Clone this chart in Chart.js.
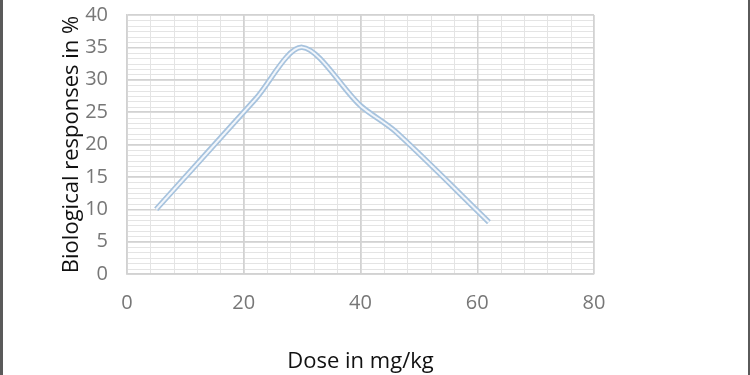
<!DOCTYPE html>
<html>
<head>
<meta charset="utf-8">
<script src="https://cdn.jsdelivr.net/npm/chart.js@4/dist/chart.umd.min.js"></script>
<style>
  html, body { margin: 0; padding: 0; background: #ffffff; }
  #wrap { position: relative; width: 750px; height: 375px; }
  #frame { position: absolute; left: 0; top: 0; width: 750px; height: 375px; box-sizing: border-box;
           border-left: 3px solid #5a5a5a; border-right: 2px solid #5a5a5a; pointer-events: none; }
</style>
</head>
<body>
<div id="wrap">
  <canvas id="c" width="750" height="375"></canvas>
  <div id="frame"></div>
</div>
<script>
// Data
const doses = [5, 22, 30, 40, 46, 62];          // Dose in mg/kg (x)
const responses = [10, 27, 35, 26, 22, 8];      // Biological responses in % (y)

// Axis settings
const xMin = 0, xMax = 80, xStep = 20, xMinorStep = 4;
const yMin = 0, yMax = 40, yStep = 5, yMinorStep = 5 / 6;
const xTitle = 'Dose in mg/kg';
const yTitle = 'Biological responses in %';

const points = doses.map((d, i) => ({ x: d, y: responses[i] }));

const minorGrid = {
  id: 'minorGrid',
  beforeDraw(chart) {
    const { ctx, chartArea, scales } = chart;
    const xs = scales.x, ys = scales.y;
    ctx.save();
    ctx.strokeStyle = '#e4e4e4';
    ctx.lineWidth = 1;
    ctx.beginPath();
    for (let v = xMin; v <= xMax + 1e-6; v += xMinorStep) {
      const px = Math.round(xs.getPixelForValue(v)) + 0.5;
      ctx.moveTo(px, chartArea.top);
      ctx.lineTo(px, chartArea.bottom);
    }
    for (let k = 0; yMin + k * yMinorStep <= yMax + 1e-6; k++) {
      const py = Math.round(ys.getPixelForValue(yMin + k * yMinorStep)) + 0.5;
      ctx.moveTo(chartArea.left, py);
      ctx.lineTo(chartArea.right, py);
    }
    ctx.stroke();
    ctx.restore();
  }
};

const tickFont = { family: "'Open Sans', sans-serif", size: 20 };
const titleFont = { family: "'Open Sans', sans-serif", size: 22 };

new Chart(document.getElementById('c'), {
  type: 'line',
  data: {
    datasets: [
      {
        data: points,
        borderColor: '#a7c3de',
        borderWidth: 5.5,
        tension: 0.3,
        pointRadius: 0,
        fill: false,
        order: 2
      },
      {
        data: points,
        borderColor: '#f2f6fb',
        borderWidth: 2,
        tension: 0.3,
        pointRadius: 0,
        fill: false,
        order: 1
      }
    ]
  },
  options: {
    responsive: false,
    animation: false,
    events: [],
    layout: { padding: { left: 0, right: 156, top: 15, bottom: 0 } },
    plugins: { legend: { display: false }, tooltip: { enabled: false }, title: { display: false } },
    scales: {
      x: {
        type: 'linear',
        min: xMin, max: xMax,
        ticks: { stepSize: xStep, color: '#777777', font: tickFont, padding: 17, maxRotation: 0 },
        grid: { color: '#d2d2d2', lineWidth: 1.5, drawTicks: false },
        border: { display: true, color: '#d2d2d2', width: 1.5 },
        title: { display: true, text: xTitle, color: '#111111', font: titleFont, padding: { top: 0, bottom: 0 } },
        afterFit(scale) { scale.height = 101; scale.paddingLeft = 0; scale.paddingRight = 0; }
      },
      y: {
        type: 'linear',
        min: yMin, max: yMax,
        ticks: { stepSize: yStep, color: '#777777', font: tickFont, padding: 19 },
        grid: { color: '#d2d2d2', lineWidth: 1.5, drawTicks: false },
        border: { display: true, color: '#d2d2d2', width: 1.5 },
        title: { display: true, text: yTitle, color: '#111111', font: titleFont, padding: { top: 59, bottom: 0 } },
        afterFit(scale) { scale.width = 127; scale.paddingTop = 0; scale.paddingBottom = 0; }
      }
    }
  },
  plugins: [minorGrid]
});
</script>
</body>
</html>
